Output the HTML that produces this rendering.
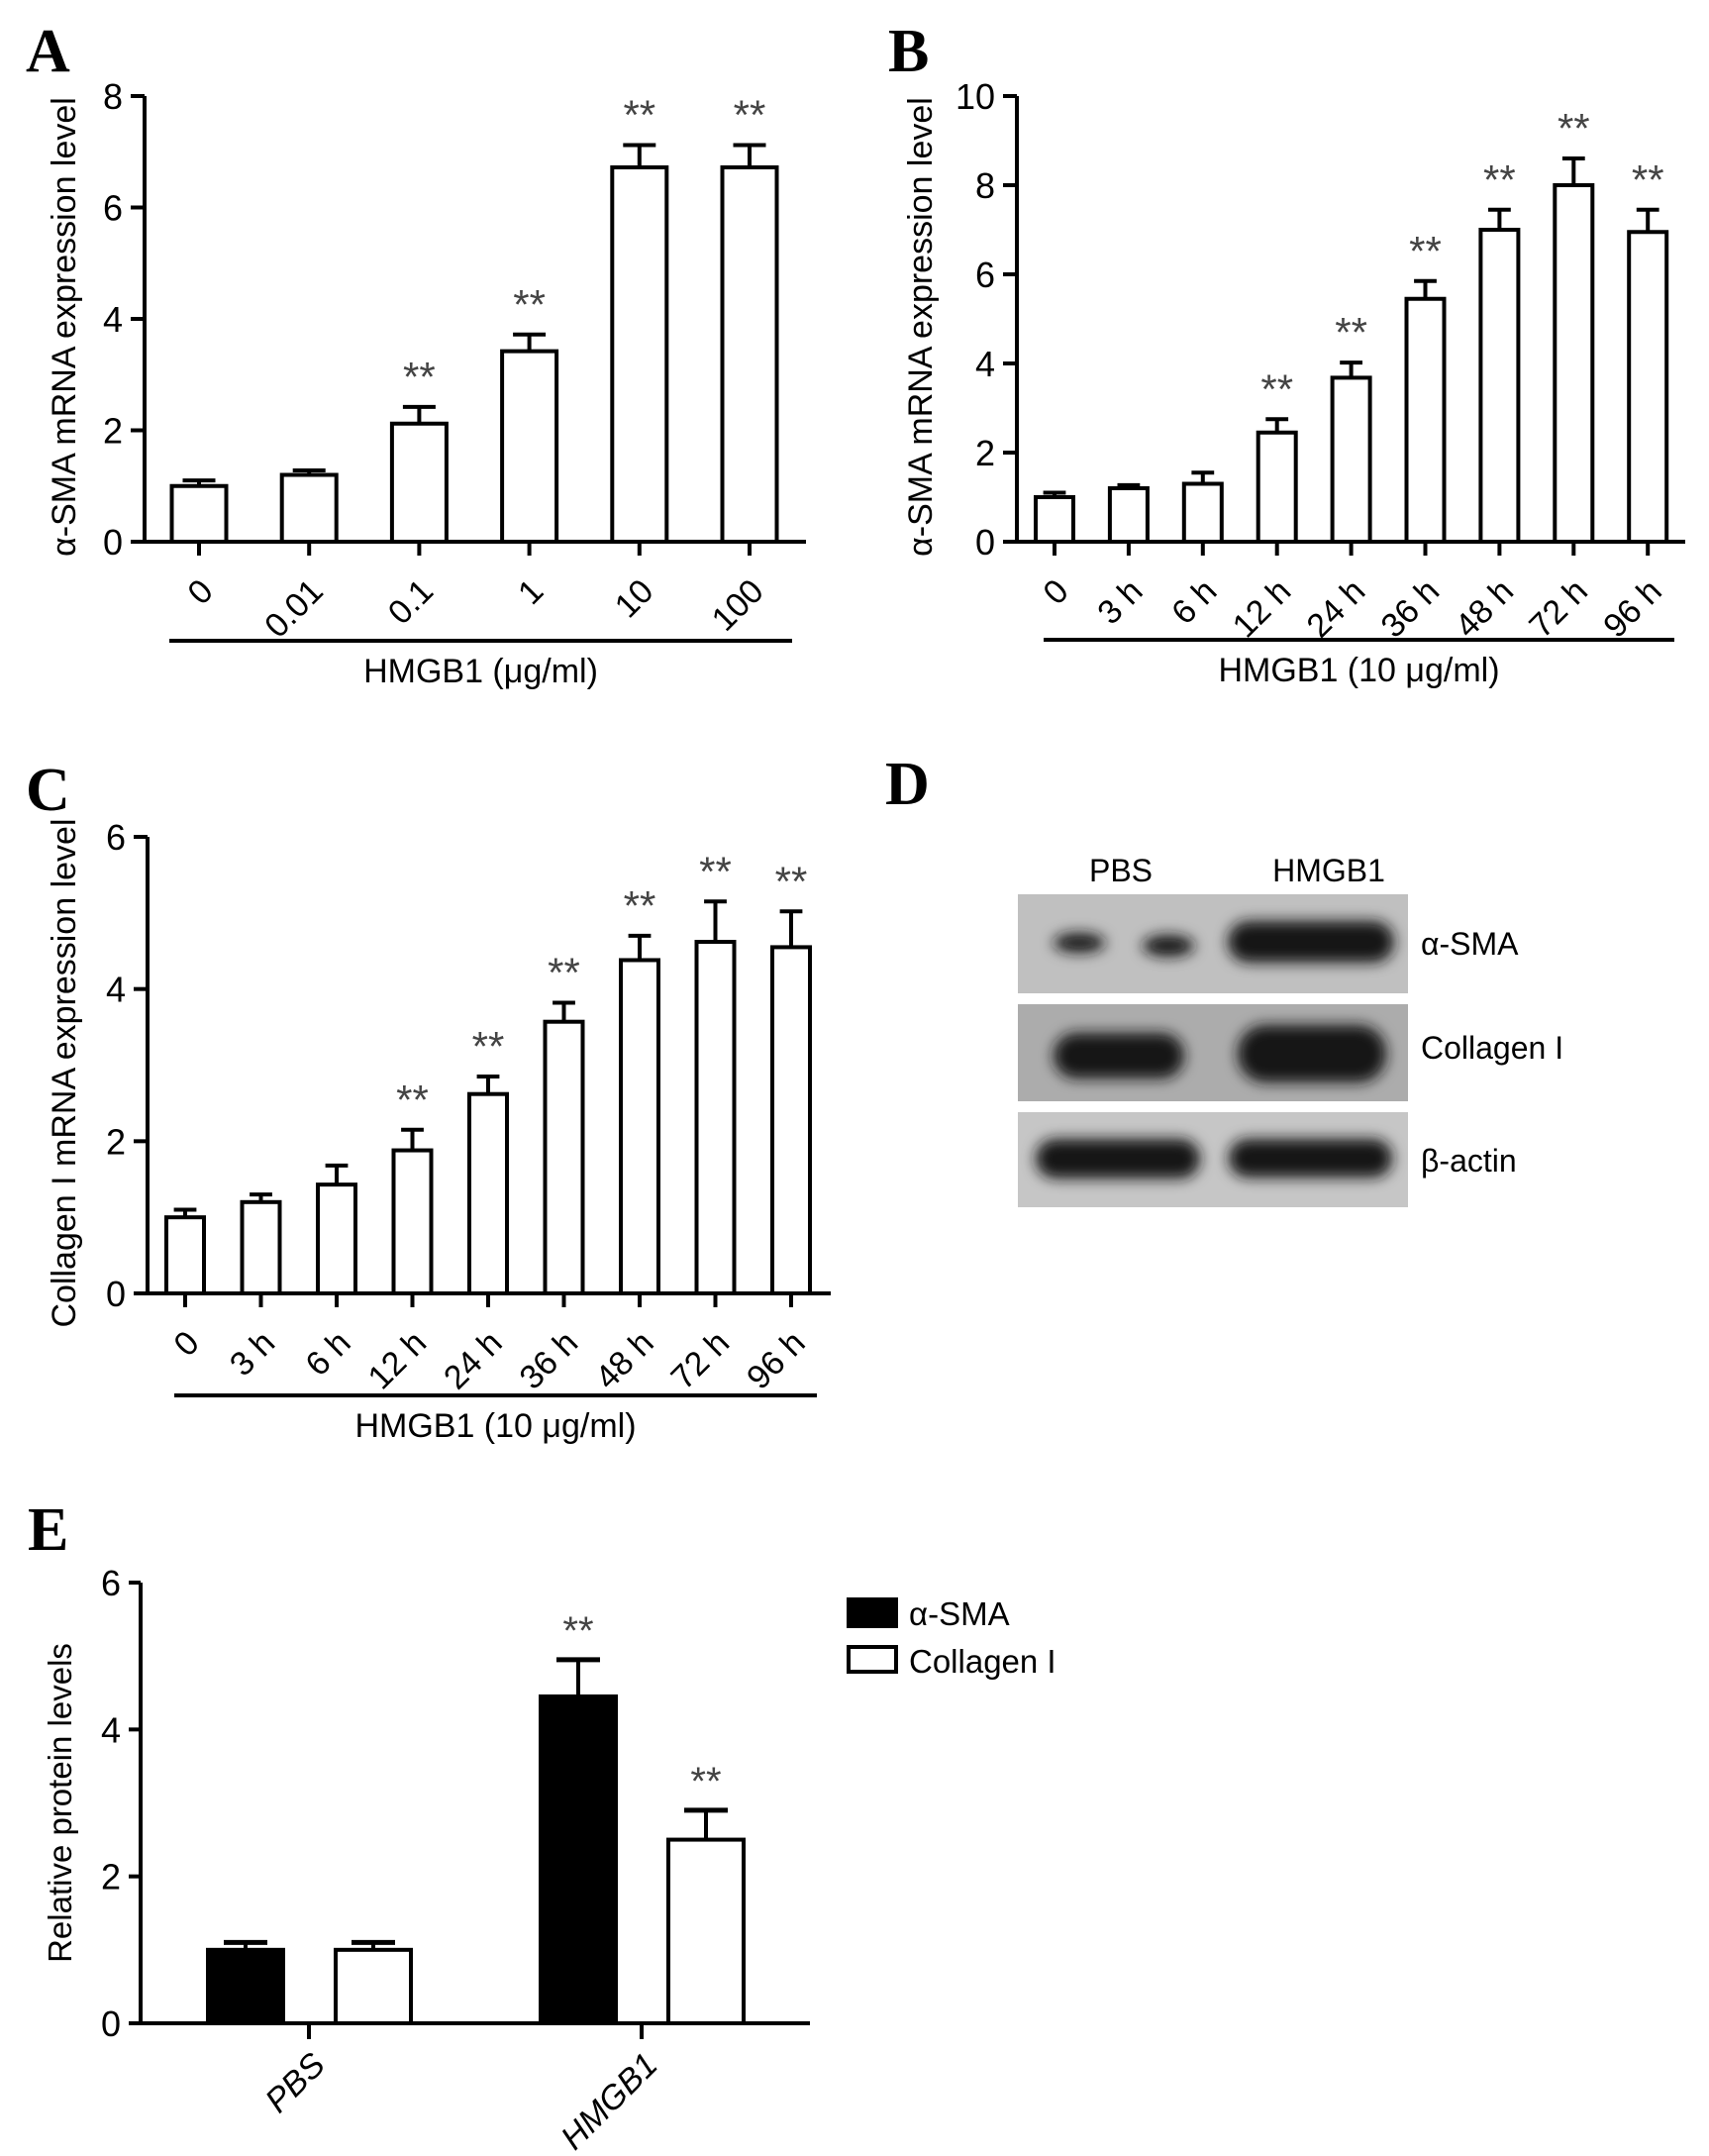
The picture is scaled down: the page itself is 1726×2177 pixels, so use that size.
<!DOCTYPE html>
<html><head><meta charset="utf-8"><style>
html,body{margin:0;padding:0;background:#fff;}
svg{display:block;font-family:"Liberation Sans",Arial,sans-serif;}
</style></head><body>
<svg id="fig" width="1726" height="2177" viewBox="0 0 1726 2177" xmlns="http://www.w3.org/2000/svg">
<defs>
<filter id="blur2" x="-30%" y="-80%" width="160%" height="260%"><feGaussianBlur stdDeviation="7"/></filter>
</defs>
<g id="panelA"></g>
<g id="panelB"></g>
<g id="panelC"></g>
<g id="panelE"></g>
<g id="panelD">
  <text x="894" y="812" font-family="Liberation Serif,serif" font-weight="bold" font-size="62">D</text>
  <text x="1132" y="890" font-size="32" text-anchor="middle">PBS</text>
  <text x="1342" y="890" font-size="32" text-anchor="middle">HMGB1</text>
  <rect x="1028" y="903" width="394" height="100" fill="#c0c0c0"/>
  <rect x="1028" y="1014" width="394" height="98" fill="#acacac"/>
  <rect x="1028" y="1123" width="394" height="96" fill="#c6c6c6"/>
  <g filter="url(#blur2)" fill="#151515">
    <ellipse cx="1090" cy="952" rx="26" ry="10"/>
    <ellipse cx="1180" cy="955" rx="26" ry="11"/>
    <rect x="1240" y="930" width="168" height="42" rx="21"/>
    <rect x="1064" y="1043" width="132" height="46" rx="23"/>
    <rect x="1250" y="1035" width="150" height="58" rx="28"/>
    <rect x="1046" y="1150" width="166" height="40" rx="20"/>
    <rect x="1241" y="1150" width="165" height="39" rx="19"/>
  </g>
  <text x="1435" y="964" font-size="32">α-SMA</text>
  <text x="1435" y="1069" font-size="32">Collagen I</text>
  <text x="1435" y="1183" font-size="32">β-actin</text>
</g>
</svg>
<script>
// Panel A data
const catsA = ["0","0.01","0.1","1","10","100"];
const valsA = [1.0,1.2,2.12,3.42,6.72,6.72];
const errA  = [0.1,0.08,0.3,0.3,0.4,0.4];
const sigA  = [false,false,true,true,true,true];
const ticksA = [0,2,4,6,8];
// Panel B data
const catsB = ["0","3 h","6 h","12 h","24 h","36 h","48 h","72 h","96 h"];
const valsB = [1.0,1.2,1.3,2.45,3.68,5.45,7.0,8.0,6.95];
const errB  = [0.1,0.07,0.25,0.3,0.34,0.4,0.45,0.6,0.5];
const sigB  = [false,false,false,true,true,true,true,true,true];
const ticksB = [0,2,4,6,8,10];
// Panel C data
const catsC = ["0","3 h","6 h","12 h","24 h","36 h","48 h","72 h","96 h"];
const valsC = [1.0,1.2,1.43,1.88,2.62,3.57,4.38,4.62,4.55];
const errC  = [0.1,0.1,0.25,0.27,0.23,0.25,0.32,0.53,0.47];
const sigC  = [false,false,false,true,true,true,true,true,true];
const ticksC = [0,2,4,6];
// Panel E data
const groupsE = ["PBS","HMGB1"];
const smaE = [1.0,4.45];
const smaErrE = [0.1,0.5];
const colE = [1.0,2.5];
const colErrE = [0.1,0.4];
const sigE = [false,true];
const ticksE = [0,2,4,6];

const NS="http://www.w3.org/2000/svg";
function mk(parent,tag,attrs,text){
  const e=document.createElementNS(NS,tag);
  for(const k in attrs) e.setAttribute(k,attrs[k]);
  if(text!==undefined) e.textContent=text;
  parent.appendChild(e); return e;
}

function barChart(g,o){
  const y=v=>o.y0-(v/o.max)*(o.y0-o.yTop);
  const x=i=>o.x0c+i*o.step;
  let el;
  el=mk(g,'text',{x:o.lx,y:o.ly,'font-family':'Liberation Serif,serif','font-weight':'bold','font-size':62});
  el.textContent=o.letter;
  
  
  o.vals.forEach((v,i)=>{
    const cx=x(i), top=y(v), et=y(v+o.err[i]);
    el=mk(g,'line',{x1:cx,y1:top,x2:cx,y2:et,stroke:'#000','stroke-width':4});
    
    
    el=mk(g,'line',{x1:cx-o.bw*0.3,y1:et,x2:cx+o.bw*0.3,y2:et,stroke:'#000','stroke-width':4});
    
    
    el=mk(g,'rect',{x:cx-o.bw/2,y:top,width:o.bw,height:o.y0-top,fill:'#fff',stroke:'#000','stroke-width':4});
    
    
    if(o.sig[i]){
      el=mk(g,'text',{x:cx,y:et-16,'font-size':42,fill:'#444','text-anchor':'middle'},'**');
      
      
    }
    el=mk(g,'line',{x1:cx,y1:o.y0,x2:cx,y2:o.y0+14,stroke:'#000','stroke-width':4});
    
    
    el=mk(g,'text',{x:cx+16,y:o.y0+52,'font-size':34,'text-anchor':'end',transform:`rotate(-45 ${cx+16} ${o.y0+52})`},o.cats[i]);
    
    
  });
  el=mk(g,'line',{x1:o.ax,y1:o.yTop,x2:o.ax,y2:o.y0+2,stroke:'#000','stroke-width':4});
  
  
  el=mk(g,'line',{x1:o.ax-14,y1:o.y0,x2:o.xEnd,y2:o.y0,stroke:'#000','stroke-width':4});
  
  
  o.ticks.forEach(t=>{
    el=mk(g,'line',{x1:o.ax-14,y1:y(t),x2:o.ax,y2:y(t),stroke:'#000','stroke-width':4});
    
    
    el=mk(g,'text',{x:o.ax-22,y:y(t)+13,'font-size':36,'text-anchor':'end'},String(t));
    
    
  });
  const ty=(o.y0+o.yTop)/2+8;
  el=mk(g,'text',{x:o.tx,y:ty,'font-size':34,'text-anchor':'middle',transform:`rotate(-90 ${o.tx} ${ty})`},o.title);
  
  
  el=mk(g,'line',{x1:o.ux1,y1:o.uy,x2:o.ux2,y2:o.uy,stroke:'#000','stroke-width':4});
  
  
  el=mk(g,'text',{x:(o.ux1+o.ux2)/2,y:o.uy+42,'font-size':34,'text-anchor':'middle'},o.xtitle);
  
  
}

barChart(document.getElementById('panelA'),{letter:'A',lx:26,ly:72,cats:catsA,vals:valsA,err:errA,sig:sigA,ticks:ticksA,max:8,
  ax:146,y0:547,yTop:97,xEnd:814,x0c:201,step:111.2,bw:55,tx:76,title:'α-SMA mRNA expression level',
  ux1:171,ux2:800,uy:647,xtitle:'HMGB1 (μg/ml)'});
barChart(document.getElementById('panelB'),{letter:'B',lx:897,ly:72,cats:catsB,vals:valsB,err:errB,sig:sigB,ticks:ticksB,max:10,
  ax:1027,y0:547,yTop:97,xEnd:1702,x0c:1065,step:74.9,bw:38,tx:941,title:'α-SMA mRNA expression level',
  ux1:1054,ux2:1691,uy:646,xtitle:'HMGB1 (10 μg/ml)'});
barChart(document.getElementById('panelC'),{letter:'C',lx:26,ly:818,cats:catsC,vals:valsC,err:errC,sig:sigC,ticks:ticksC,max:6,
  ax:149,y0:1306,yTop:845,xEnd:839,x0c:187,step:76.5,bw:38,tx:76,title:'Collagen I mRNA expression level',
  ux1:176,ux2:825,uy:1409,xtitle:'HMGB1 (10 μg/ml)'});

(function(){
  const g=document.getElementById('panelE');
  const ax=142,y0=2043,yTop=1598,max=6;
  const y=v=>y0-(v/max)*(y0-yTop);
  const gx=[312,648], off=[-64,65], bw=76;
  let el;
  el=mk(g,'text',{x:28,y:1565,'font-family':'Liberation Serif,serif','font-weight':'bold','font-size':62},'E');
  
  
  groupsE.forEach((name,i)=>{
    [[smaE,smaErrE,'#000',off[0]],[colE,colErrE,'#fff',off[1]]].forEach(([vals,errs,fill,o])=>{
      const cx=gx[i]+o, top=y(vals[i]), et=y(vals[i]+errs[i]);
      el=mk(g,'line',{x1:cx,y1:top,x2:cx,y2:et,stroke:'#000','stroke-width':4});
      
      
      el=mk(g,'line',{x1:cx-22,y1:et,x2:cx+22,y2:et,stroke:'#000','stroke-width':5});
      
      
      el=mk(g,'rect',{x:cx-bw/2,y:top,width:bw,height:y0-top,fill:fill,stroke:'#000','stroke-width':4});
      
      
      if(sigE[i]){
        el=mk(g,'text',{x:cx,y:et-16,'font-size':40,fill:'#444','text-anchor':'middle'},'**');
        
        
      }
    });
    el=mk(g,'line',{x1:gx[i],y1:y0,x2:gx[i],y2:y0+16,stroke:'#000','stroke-width':4});
    
    
    el=mk(g,'text',{x:gx[i]+18,y:y0+44,'font-size':34,'font-style':'italic','text-anchor':'end',transform:`rotate(-45 ${gx[i]+18} ${y0+44})`},name);
    
    
  });
  el=mk(g,'line',{x1:ax,y1:yTop,x2:ax,y2:y0+2,stroke:'#000','stroke-width':4});
  
  
  el=mk(g,'line',{x1:131,y1:y0,x2:818,y2:y0,stroke:'#000','stroke-width':4});
  
  
  ticksE.forEach(t=>{
    el=mk(g,'line',{x1:ax-12,y1:y(t),x2:ax,y2:y(t),stroke:'#000','stroke-width':4});
    
    
    el=mk(g,'text',{x:ax-20,y:y(t)+13,'font-size':36,'text-anchor':'end'},String(t));
    
    
  });
  const ty=(y0+yTop)/2;
  el=mk(g,'text',{x:72,y:ty,'font-size':33,'text-anchor':'middle',transform:`rotate(-90 72 ${ty})`},'Relative protein levels');
  
  
  el=mk(g,'rect',{x:857,y:1615,width:48,height:27,fill:'#000',stroke:'#000','stroke-width':4});
  
  
  el=mk(g,'text',{x:918,y:1641,'font-size':33},'α-SMA');
  
  
  el=mk(g,'rect',{x:857,y:1663,width:48,height:25,fill:'#fff',stroke:'#000','stroke-width':4});
  
  
  el=mk(g,'text',{x:918,y:1689,'font-size':33},'Collagen I');
  
  
})();
</script>
</body></html>
